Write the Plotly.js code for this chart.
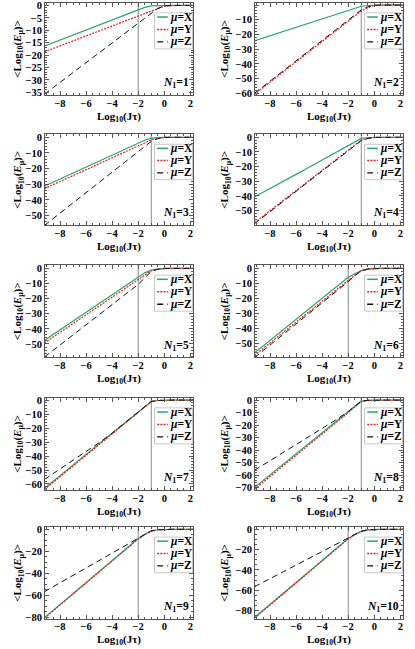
<!DOCTYPE html>
<html>
<head>
<meta charset="utf-8">
<script src="https://cdn.plot.ly/plotly-3.0.1.min.js"></script>
<style>html,body{margin:0;padding:0;background:#fff;}#chart{width:415px;height:649px;}</style>
</head>
<body>
<div id="chart"></div>
<script>
// x grid: Log10(J tau)
const xGrid = [-9.2,-8,-7,-6,-5,-4,-3,-2,-1.5,-1,-0.5,0,0.5,1,2,2.3];

const muX_1 = [-16.4,-14,-12,-10,-8,-6,-4,-2,-0.8,-0.2,-0.05,0,0,0,0,0];
const muY_1 = [-18.7,-16.3,-14.3,-12.3,-10.3,-8.3,-6.3,-4.3,-3.3,-2.3,-1.2,-0.3,-0.05,0,0,0];
const muZ_1 = [-35.8,-31,-27,-23,-19,-15,-11,-7,-5,-3,-1.2,-0.2,0,0,0,0];

const muX_2 = [-24.3,-20.9,-18.0,-15.1,-12.2,-9.3,-6.4,-3.5,-2.0,-0.8,-0.3,0,0,0,0,0];
const muY_2 = [-60.8,-52.5,-45.6,-38.7,-31.8,-24.8,-17.9,-11.0,-7.5,-4.0,-1.8,-0.2,0,0,0,0];
const muZ_2 = [-60.1,-51.8,-44.9,-38.0,-31.1,-24.1,-17.2,-10.3,-6.8,-3.3,-1.2,-0.1,0,0,0,0];

const muX_3 = [-31.2,-26.6,-22.8,-19.0,-15.2,-11.4,-7.6,-3.8,-1.9,-0.5,-0.1,0,0,0,0,0];
const muY_3 = [-32.8,-28.2,-24.4,-20.6,-16.8,-13.0,-9.2,-5.4,-3.5,-1.7,-0.7,-0.1,0,0,0,0];
const muZ_3 = [-56.3,-48.4,-41.9,-35.3,-28.7,-22.1,-15.6,-9.0,-5.7,-2.6,-0.9,-0.1,0,0,0,0];

const muX_4 = [-40.7,-35.1,-30.2,-25.3,-20.4,-15.5,-10.6,-5.7,-3.2,-0.8,-0.2,0,0,0,0,0];
const muY_4 = [-58.3,-50.1,-43.2,-36.4,-29.5,-22.6,-15.8,-8.9,-5.5,-2.0,-0.8,-0.1,0,0,0,0];
const muZ_4 = [-59.0,-50.8,-43.8,-37.0,-30.0,-23.1,-16.2,-9.3,-5.8,-2.3,-0.9,-0.1,0,0,0,0];

const muX_5 = [-47.7,-40.7,-34.8,-28.9,-23.1,-17.2,-11.4,-5.5,-3.0,-1.2,-0.4,0,0,0,0,0];
const muY_5 = [-49.3,-42.4,-36.6,-30.8,-25.0,-19.3,-13.5,-7.7,-4.5,-1.6,-0.5,-0.05,0,0,0,0];
const muZ_5 = [-58.7,-50.7,-44.0,-37.3,-30.6,-23.9,-17.2,-10.6,-6.3,-2.0,-0.6,-0.05,0,0,0,0];

const muX_6 = [-56.5,-48.1,-41.1,-34.1,-27.1,-20.0,-13.0,-6.0,-3.6,-1.5,-0.5,0,0,0,0,0];
const muY_6 = [-58.1,-49.8,-42.8,-35.8,-28.8,-21.8,-14.8,-7.8,-4.6,-1.6,-0.5,-0.05,0,0,0,0];
const muZ_6 = [-59.6,-51.2,-44.1,-37.1,-30.0,-23.0,-15.9,-8.9,-5.0,-1.7,-0.5,-0.05,0,0,0,0];

const muX_7 = [-63.0,-53.9,-46.3,-38.8,-31.2,-23.7,-16.1,-8.6,-4.8,-1.0,-0.3,0,0,0,0,0];
const muY_7 = [-64.0,-54.9,-47.3,-39.7,-32.1,-24.5,-16.9,-9.2,-5.2,-1.2,-0.3,-0.05,0,0,0,0];
const muZ_7 = [-56.8,-49.3,-43.0,-36.8,-30.5,-23.6,-16.0,-8.4,-4.7,-0.9,-0.3,0,0,0,0,0];

const muX_8 = [-69.9,-59.8,-51.4,-42.9,-34.5,-26.1,-17.6,-9.2,-5.0,-0.8,-0.2,0,0,0,0,0];
const muY_8 = [-71.4,-61.3,-52.8,-44.2,-35.7,-27.1,-18.6,-10.0,-5.7,-1.2,-0.3,-0.05,0,0,0,0];
const muZ_8 = [-56.2,-48.5,-42.0,-35.5,-29.1,-22.6,-16.2,-9.2,-5.0,-0.8,-0.2,0,0,0,0,0];

const muX_9 = [-80.5,-68.5,-58.5,-48.5,-38.4,-28.4,-18.4,-8.4,-4.5,-1.5,-0.4,0,0,0,0,0];
const muY_9 = [-81.0,-69.1,-59.1,-49.0,-39.0,-28.9,-18.9,-8.8,-4.8,-1.6,-0.4,-0.05,0,0,0,0];
const muZ_9 = [-56.8,-48.7,-42.0,-35.2,-28.4,-21.6,-14.8,-8.0,-4.3,-1.4,-0.4,0,0,0,0,0];

const muX_10 = [-87.0,-74.0,-63.2,-52.4,-41.6,-30.7,-19.9,-9.1,-5.0,-2.0,-0.5,0,0,0,0,0];
const muY_10 = [-87.6,-74.6,-63.7,-52.9,-42.0,-31.2,-20.3,-9.4,-5.2,-2.1,-0.5,-0.05,0,0,0,0];
const muZ_10 = [-56.6,-48.5,-41.8,-35.0,-28.3,-21.5,-14.8,-8.0,-4.6,-1.8,-0.5,0,0,0,0,0];

const panelN = [1,2,3,4,5,6,7,8,9,10];
const vLineX = [-2,-1,-1,-1,-2,-2,-1,-1,-2,-2];
const yLow = [-36.1,-61.2,-56,-59.8,-58.8,-59.3,-64.3,-71.9,-81.2,-87.8];
const yHigh = [1.1,1.6,1.9,2,2.2,2.2,1.7,1.9,2.1,2.3];
const yStep = [5,10,10,10,10,10,10,10,20,20];
const yMinorStep = [1,2,2,2,2,2,2,2,5,5];
const seriesNames = ['X','Y','Z'];
const xTitleText = 'Log<sub>10</sub>(J\u03c4)';
const yTitleText = '&lt;Log<sub>10</sub>(<i>E</i><sub>\u03bc</sub>)&gt;';

const dataSets = [
  [muX_1,muY_1,muZ_1],[muX_2,muY_2,muZ_2],[muX_3,muY_3,muZ_3],[muX_4,muY_4,muZ_4],
  [muX_5,muY_5,muZ_5],[muX_6,muY_6,muZ_6],[muX_7,muY_7,muZ_7],[muX_8,muY_8,muZ_8],
  [muX_9,muY_9,muZ_9],[muX_10,muY_10,muZ_10]
];

const styles = [
  {color:'rgb(40,165,110)', width:1.2, dash:'solid'},
  {color:'rgb(225,35,35)', width:1.2, dash:'2px,1.2px'},
  {color:'#111', width:1.0, dash:'6px,4px'}
];

const W = 415, H = 649;
const colPx = [[45,193],[255,403]];
const rowPx = [[2.7,95],[134.3,225],[265,357.3],[397.7,490],[527,618.5]];
const xTitleShift = [-22,-22,-22,-22,-21];
const yTitleShift = [-27,-30];
const FONT = 'Liberation Serif, Times New Roman, serif';
const frameColor = '#555';
const titleFont = {family: FONT, size: 11, color: '#000', weight: 'bold'};

const traces = [];
const layout = {
  width: W, height: H,
  margin: {l:0,r:0,t:0,b:0},
  paper_bgcolor: '#fff', plot_bgcolor: '#fff',
  showlegend: false,
  shapes: [], annotations: []
};

panelN.forEach((n, i) => {
  const k = i + 1;
  const xa = 'x' + k, ya = 'y' + k;
  const col = i % 2, row = Math.floor(i / 2);
  const xd = [colPx[col][0] / W, colPx[col][1] / W];
  const yd = [1 - rowPx[row][1] / H, 1 - rowPx[row][0] / H];

  dataSets[i].forEach((ys, s) => {
    traces.push({
      type: 'scatter', mode: 'lines',
      x: xGrid, y: ys,
      xaxis: xa, yaxis: ya,
      name: '\u03bc=' + seriesNames[s],
      line: {color: styles[s].color, width: styles[s].width, dash: styles[s].dash},
      hoverinfo: 'skip'
    });
  });

  const common = {
    showline: true, mirror: 'allticks', linecolor: frameColor, linewidth: 1,
    ticks: 'inside', ticklen: 4, tickwidth: 1, tickcolor: frameColor,
    showgrid: false, zeroline: false, automargin: false,
    tickfont: {family: FONT, size: 10.5, color: '#000', weight: 'bold'}
  };
  layout['xaxis' + k] = Object.assign({}, common, {
    domain: xd, anchor: ya, range: [-9.15, 2.2], dtick: 2, tick0: 0,
    ticklabelstandoff: -2,
    minor: {dtick: 0.5, tick0: 0, ticks: 'inside', ticklen: 2, tickcolor: frameColor}
  });
  layout['yaxis' + k] = Object.assign({}, common, {
    domain: yd, anchor: xa, range: [yLow[i], yHigh[i]], dtick: yStep[i], tick0: 0,
    minor: {dtick: yMinorStep[i], tick0: 0, ticks: 'inside', ticklen: 2, tickcolor: frameColor}
  });

  // axis titles
  layout.annotations.push({xref: xa + ' domain', yref: ya + ' domain', x: 0.5, y: 0, yshift: xTitleShift[row],
    xanchor: 'center', yanchor: 'middle', text: xTitleText, showarrow: false, font: titleFont});
  layout.annotations.push({xref: xa + ' domain', yref: ya + ' domain', x: 0, y: 0.5, xshift: yTitleShift[col],
    xanchor: 'center', yanchor: 'middle', textangle: -90, text: yTitleText, showarrow: false, font: titleFont});

  // vertical reference line
  layout.shapes.push({type: 'line', xref: xa, yref: ya + ' domain', x0: vLineX[i], x1: vLineX[i], y0: 0, y1: 1,
    line: {color: '#8a8a8a', width: 1}, layer: 'below'});

  // legend box
  layout.shapes.push({type: 'rect', xref: xa + ' domain', yref: ya + ' domain', x0: 0.74, x1: 0.997, y0: 0.50, y1: 0.89,
    fillcolor: '#fff', line: {color: '#c8c8c8', width: 1}, layer: 'above'});
  const ly = [0.845, 0.71, 0.575];
  for (let s = 0; s < 3; s++) {
    layout.shapes.push({type: 'line', xref: xa + ' domain', yref: ya + ' domain', x0: 0.758, x1: 0.83, y0: ly[s], y1: ly[s],
      line: {color: styles[s].color, width: styles[s].width + 0.3, dash: styles[s].dash}, layer: 'above'});
    layout.annotations.push({xref: xa + ' domain', yref: ya + ' domain', x: 0.832, y: ly[s], xanchor: 'left', yanchor: 'middle',
      text: '<i>\u03bc</i>=' + seriesNames[s], showarrow: false,
      font: {family: FONT, size: 11.5, color: '#000', weight: 'bold'}});
  }
  // N1 label
  layout.annotations.push({xref: xa + ' domain', yref: ya + ' domain', x: 0.985, y: 0.03, xanchor: 'right', yanchor: 'bottom',
    text: '<i>N</i><sub>1</sub>=' + n, showarrow: false,
    font: {family: FONT, size: 11.5, color: '#000', weight: 'bold'}});
});

Plotly.newPlot('chart', traces, layout, {staticPlot: true, displayModeBar: false});
</script>
</body>
</html>
